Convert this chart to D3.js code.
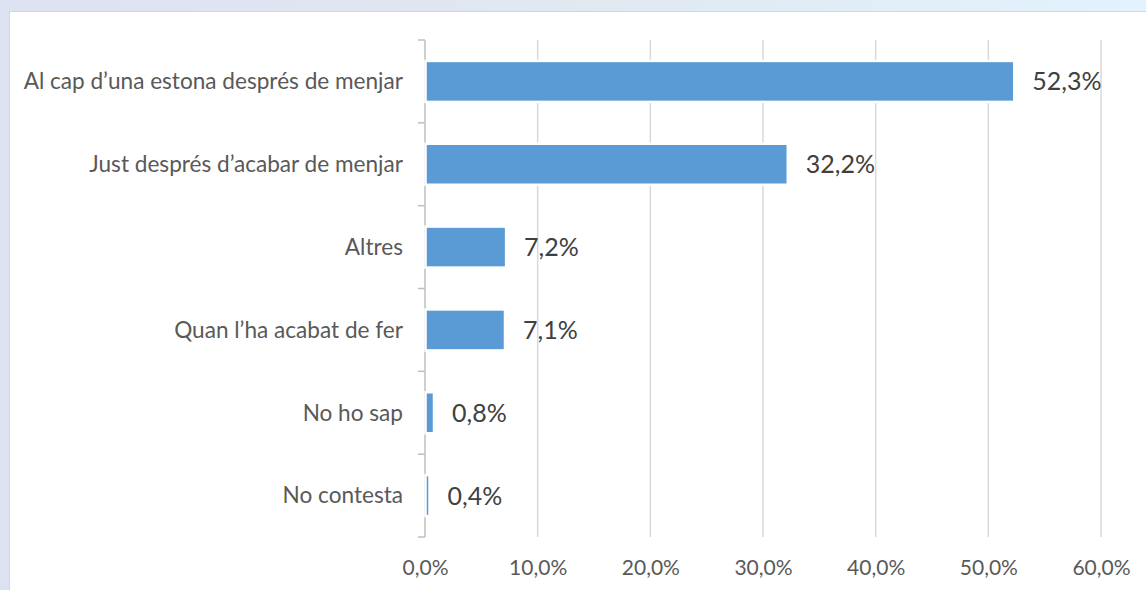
<!DOCTYPE html>
<html>
<head>
<meta charset="utf-8">
<script src="https://cdn.jsdelivr.net/npm/d3@7"></script>
<style>
  html, body { margin: 0; padding: 0; background: #ffffff; }
  svg { display: block; }
</style>
</head>
<body>
<svg id="chart" width="1146" height="590"></svg>
<script>
// ---- Data ----
const categories = [
  "Al cap d’una estona després de menjar",
  "Just després d’acabar de menjar",
  "Altres",
  "Quan l’ha acabat de fer",
  "No ho sap",
  "No contesta"
];
const values = [52.3, 32.2, 7.2, 7.1, 0.8, 0.4];
const xTicks = [0, 10, 20, 30, 40, 50, 60];

// ---- Layout ----
const W = 1146, H = 590;
const plot = { left: 425, right: 1101, top: 40, bottom: 537 };
const fontFamily = "Lato, 'Open Sans', sans-serif";
const fmt = v => v.toFixed(1).replace(".", ",") + "%";

const svg = d3.select("#chart");

// background gradient
const defs = svg.append("defs");
const g1 = defs.append("linearGradient").attr("id", "bg").attr("x1", "0").attr("y1", "0").attr("x2", "1").attr("y2", "0");
g1.append("stop").attr("offset", "0").attr("stop-color", "#dde2f2");
g1.append("stop").attr("offset", "0.5").attr("stop-color", "#e0e8f0");
g1.append("stop").attr("offset", "1").attr("stop-color", "#e3f2fd");
svg.append("rect").attr("width", W).attr("height", H).attr("fill", "url(#bg)");

// white chart panel
svg.append("rect")
  .attr("x", 9.5).attr("y", 11.5)
  .attr("width", W).attr("height", H)
  .attr("fill", "#ffffff")
  .attr("stroke", "#d6d6d6").attr("stroke-width", 1);

const x = d3.scaleLinear().domain([0, 60]).range([plot.left, plot.right]);
const y = d3.scaleBand().domain(categories).range([plot.top, plot.bottom])
  .paddingInner(0.505).paddingOuter(0.2525);

// gridlines
svg.append("g").selectAll("line").data(xTicks.filter(t => t > 0)).join("line")
  .attr("x1", d => x(d)).attr("x2", d => x(d))
  .attr("y1", plot.top).attr("y2", plot.bottom)
  .attr("stroke", "#d9d9d9").attr("stroke-width", 1.5);

// x-axis tick labels
const xAxis = d3.axisBottom(x).tickValues(xTicks).tickFormat(fmt).tickSize(0).tickPadding(0);
const xg = svg.append("g").attr("transform", `translate(0, ${plot.bottom})`).call(xAxis);
xg.select(".domain").remove();
xg.selectAll("text")
  .attr("y", 38).attr("dy", null)
  .attr("font-family", fontFamily).attr("font-size", 21).attr("fill", "#595959");

// y axis (category axis) with ticks at band boundaries
const yAxisG = svg.append("g");
yAxisG.append("line")
  .attr("x1", plot.left).attr("x2", plot.left)
  .attr("y1", plot.top).attr("y2", plot.bottom)
  .attr("stroke", "#bfbfbf").attr("stroke-width", 1.5);
const step = y.step();
const boundaries = d3.range(categories.length + 1).map(i => plot.top + i * step);
yAxisG.selectAll("line.tick").data(boundaries).join("line").attr("class", "tick")
  .attr("x1", plot.left - 7).attr("x2", plot.left)
  .attr("y1", d => d).attr("y2", d => d)
  .attr("stroke", "#bfbfbf").attr("stroke-width", 1.5);

// category labels
svg.append("g").selectAll("text").data(categories).join("text")
  .attr("x", 403)
  .attr("y", d => y(d) + y.bandwidth() / 2)
  .attr("dy", "0.35em")
  .attr("text-anchor", "end")
  .attr("font-family", fontFamily).attr("font-size", 22.6).attr("fill", "#595959")
  .text(d => d);

// bars
svg.append("g").selectAll("rect").data(values).join("rect")
  .attr("x", x(0) + 0.5)
  .attr("y", (d, i) => y(categories[i]))
  .attr("width", d => x(d) - x(0) - 0.5)
  .attr("height", y.bandwidth())
  .attr("fill", "#5b9bd5")
  .attr("stroke", "#ffffff").attr("stroke-width", 2.5);

// data labels
svg.append("g").selectAll("text").data(values).join("text")
  .attr("x", d => x(d) + 18)
  .attr("y", (d, i) => y(categories[i]) + y.bandwidth() / 2)
  .attr("dy", "0.36em")
  .attr("font-family", fontFamily).attr("font-size", 25).attr("fill", "#404040")
  .text(d => fmt(d));
</script>
</body>
</html>
